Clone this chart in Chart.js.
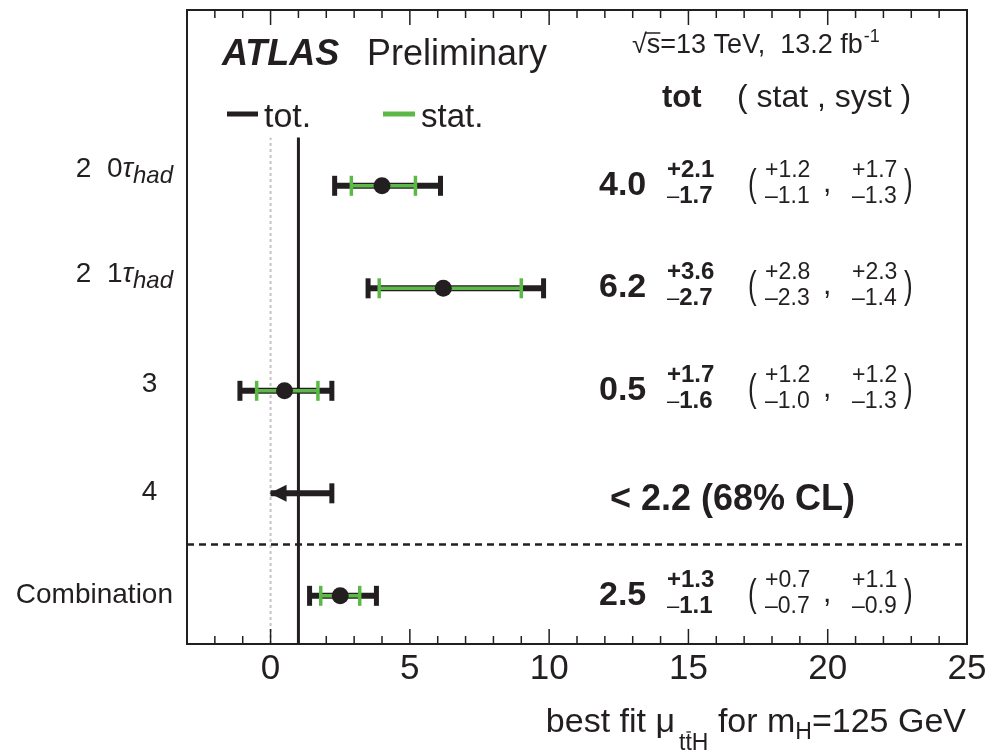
<!DOCTYPE html>
<html lang="en">
<head>
<meta charset="UTF-8">
<title>best fit mu ttH</title>
<script src="https://cdn.jsdelivr.net/npm/chart.js"></script>
<style>
  body { margin: 0; background: #fff; }
  #wrap { width: 992px; height: 755px; }
</style>
</head>
<body>
<div id="wrap"><canvas id="grafico" width="992" height="755"></canvas></div>
<script>
// channels, top to bottom (the l glyph is blank in the original figure)
const channels = ['2  0', '2  1', '3  ', '4  ', 'Combination'];
const channelTau = [true, true, false, false, false];

const mu     = [4.0, 6.2, 0.5, null, 2.5];
const totUp  = [2.1, 3.6, 1.7, null, 1.3];
const totDn  = [1.7, 2.7, 1.6, null, 1.1];
const statUp = [1.2, 2.8, 1.2, null, 0.7];
const statDn = [1.1, 2.3, 1.0, null, 0.7];
const systUp = [1.7, 2.3, 1.2, null, 1.1];
const systDn = [1.3, 1.4, 1.3, null, 0.9];
const upperLimit = [null, null, null, 2.2, null];

const xTicks = [0, 5, 10, 15, 20, 25];
const muSM = 1;

const BLACK = '#231f20';
const GREEN = '#5cb947';
const FONT = '"Liberation Sans", Arial, Helvetica, sans-serif';

const yMin = 0.53, yMax = 6.715;
const rowY = channels.map((c, i) => channels.length - i);
const lineTop = rowY[0] + 0.47;
const sepY = 1.5;

const datasets = [];
channels.forEach((c, i) => {
    const y = rowY[i];
    if (mu[i] === null) {
        datasets.push({
            data: [{x: 0, y: y}, {x: upperLimit[i], y: y}],
            showLine: true, borderColor: BLACK, borderWidth: 6,
            pointStyle: 'line', pointRotation: 90, pointRadius: [0, 10],
            pointBorderWidth: 5, pointBorderColor: BLACK, order: 3
        });
        return;
    }
    datasets.push({
        data: [{x: mu[i] - totDn[i], y: y}, {x: mu[i] + totUp[i], y: y}],
        showLine: true, borderColor: BLACK, borderWidth: 6,
        pointStyle: 'line', pointRotation: 90, pointRadius: 10,
        pointBorderWidth: 5, pointBorderColor: BLACK, order: 3
    });
    datasets.push({
        data: [{x: mu[i] - statDn[i], y: y}, {x: mu[i] + statUp[i], y: y}],
        showLine: true, borderColor: GREEN, borderWidth: 3.5,
        pointStyle: 'line', pointRotation: 90, pointRadius: 10,
        pointBorderWidth: 3.5, pointBorderColor: GREEN, order: 2
    });
    datasets.push({
        data: [{x: mu[i], y: y}],
        pointStyle: 'circle', pointRadius: 8.5, pointBorderWidth: 0,
        pointBackgroundColor: BLACK, pointBorderColor: BLACK, order: 1
    });
});

// SM line, zero line, separator
datasets.push({
    data: [{x: muSM, y: yMin}, {x: muSM, y: lineTop}],
    showLine: true, borderColor: BLACK, borderWidth: 3, pointRadius: 0, order: 5
});
datasets.push({
    data: [{x: 0, y: yMin}, {x: 0, y: lineTop}],
    showLine: true, borderColor: '#c4c4c4', borderWidth: 2, borderDash: [3, 3], pointRadius: 0, order: 6
});
datasets.push({
    data: [{x: -3, y: sepY}, {x: 25, y: sepY}],
    showLine: true, borderColor: BLACK, borderWidth: 2.5, borderDash: [7, 5], pointRadius: 0, order: 4
});

function txt(ctx, s, x, y, font, align) {
    ctx.font = font;
    ctx.textAlign = align || 'left';
    ctx.fillText(s, x, y);
    return ctx.measureText(s).width;
}

// thin tall parenthesis, like the ROOT ones
function paren(ctx, s, x, yMid) {
    ctx.save();
    ctx.font = `26px ${FONT}`;
    ctx.textAlign = 'left';
    ctx.translate(x, yMid);
    ctx.scale(1, 1.5);
    ctx.fillText(s, 0, 6.5);
    ctx.restore();
}

const decor = {
    id: 'decor',
    afterDatasetsDraw(chart) {
        const ctx = chart.ctx;
        const xs = chart.scales.x, ys = chart.scales.y;
        ctx.save();
        ctx.fillStyle = BLACK;
        // arrow heads for upper limits
        upperLimit.forEach((u, i) => {
            if (u === null) return;
            const tx = xs.getPixelForValue(0), ty = ys.getPixelForValue(rowY[i]);
            ctx.beginPath();
            ctx.moveTo(tx - 1, ty);
            ctx.lineTo(tx + 16, ty - 8.5);
            ctx.lineTo(tx + 16, ty + 8.5);
            ctx.closePath();
            ctx.fill();
        });
        ctx.restore();
    },
    afterDraw(chart) {
        const ctx = chart.ctx;
        const a = chart.chartArea;
        const xs = chart.scales.x, ys = chart.scales.y;
        ctx.save();
        ctx.strokeStyle = BLACK;
        ctx.fillStyle = BLACK;
        ctx.textBaseline = 'alphabetic';

        // frame
        ctx.lineWidth = 2;
        ctx.strokeRect(a.left, a.top, a.right - a.left, a.bottom - a.top);

        // inward ticks, top and bottom
        ctx.lineWidth = 1.5;
        for (let v = Math.ceil(xs.min); v <= xs.max; v++) {
            const px = xs.getPixelForValue(v);
            const len = v % 5 === 0 ? 15 : 8;
            ctx.beginPath();
            ctx.moveTo(px, a.bottom); ctx.lineTo(px, a.bottom - len);
            ctx.moveTo(px, a.top); ctx.lineTo(px, a.top + len);
            ctx.stroke();
        }

        // header
        txt(ctx, 'ATLAS', 222, 65, `italic bold 36px ${FONT}`);
        txt(ctx, 'Preliminary', 367, 65, `36px ${FONT}`);

        let x = 632;
        const w0 = txt(ctx, '\u221A', x, 53, `27px ${FONT}`);
        const ws = txt(ctx, 's', x + w0, 53, `27px ${FONT}`);
        ctx.lineWidth = 1.5;
        ctx.beginPath();
        ctx.moveTo(x + w0 - 1, 33); ctx.lineTo(x + w0 + ws, 33); ctx.stroke();
        x += w0 + ws;
        x += txt(ctx, '=13 TeV,  13.2 fb', x, 53, `27px ${FONT}`);
        txt(ctx, '-1', x + 1, 42, `18px ${FONT}`);

        // legend
        ctx.lineWidth = 5;
        ctx.strokeStyle = BLACK;
        ctx.beginPath(); ctx.moveTo(227, 114); ctx.lineTo(258, 114); ctx.stroke();
        txt(ctx, 'tot.', 264, 127, `34px ${FONT}`);
        ctx.strokeStyle = GREEN;
        ctx.beginPath(); ctx.moveTo(383, 114); ctx.lineTo(415, 114); ctx.stroke();
        txt(ctx, 'stat.', 421, 127, `33px ${FONT}`);

        txt(ctx, 'tot', 662, 107, `bold 31px ${FONT}`);
        txt(ctx, '( stat , syst )', 737, 107, `32px ${FONT}`);

        // left labels
        const labelNudge = [-9, -6, 1, 7, 7];
        channels.forEach((c, i) => {
            const by = ys.getPixelForValue(rowY[i]) + labelNudge[i];
            const right = 173;
            if (channelTau[i]) {
                ctx.font = `italic 24px ${FONT}`;
                const wh = ctx.measureText('had').width;
                ctx.font = `italic 28px ${FONT}`;
                const wt = ctx.measureText('\u03C4').width;
                ctx.font = `28px ${FONT}`;
                const wm = ctx.measureText(c).width;
                let sx = right - wh - wt - wm;
                sx += txt(ctx, c, sx, by, `28px ${FONT}`);
                sx += txt(ctx, '\u03C4', sx, by, `italic 28px ${FONT}`);
                txt(ctx, 'had', sx, by + 6, `italic 24px ${FONT}`);
            } else {
                txt(ctx, c, right, by, `28px ${FONT}`, 'right');
            }
        });

        // right-hand numbers
        channels.forEach((c, i) => {
            const yp = ys.getPixelForValue(rowY[i]);
            if (mu[i] === null) {
                txt(ctx, '< ' + upperLimit[i].toFixed(1) + ' (68% CL)', 610, yp + 17, `bold 36px ${FONT}`);
                return;
            }
            txt(ctx, mu[i].toFixed(1), 599, yp + 9, `bold 34px ${FONT}`);
            txt(ctx, '+' + totUp[i].toFixed(1), 667, yp - 9, `bold 24px ${FONT}`);
            const wd = txt(ctx, '\u2013', 667, yp + 17, `22px ${FONT}`);
            txt(ctx, totDn[i].toFixed(1), 667 + wd, yp + 17, `bold 24px ${FONT}`);

            paren(ctx, '(', 748, yp);
            txt(ctx, '+' + statUp[i].toFixed(1), 765, yp - 9, `23px ${FONT}`);
            txt(ctx, '\u2013' + statDn[i].toFixed(1), 765, yp + 17, `23px ${FONT}`);
            txt(ctx, ',', 823, yp + 6, `30px ${FONT}`);
            txt(ctx, '+' + systUp[i].toFixed(1), 852, yp - 9, `23px ${FONT}`);
            txt(ctx, '\u2013' + systDn[i].toFixed(1), 852, yp + 17, `23px ${FONT}`);
            paren(ctx, ')', 904, yp);
        });

        // x title, right aligned
        const big = `34px ${FONT}`, sub = `23px ${FONT}`;
        const parts = [
            ['best fit \u03BC', big, 0], ['tt', sub, 18], ['H', sub, 18], [' for m', big, 0],
            ['H', sub, 7], ['=125 GeV', big, 0]
        ];
        let total = 0;
        parts.forEach(p => { ctx.font = p[1]; total += ctx.measureText(p[0]).width; });
        total += 4;
        x = 966 - total;
        const base = 732;
        parts.forEach((p, k) => {
            const w = txt(ctx, p[0], x, base + p[2], p[1]);
            if (k === 1) {
                ctx.font = sub;
                const wt = ctx.measureText('t').width;
                ctx.lineWidth = 1.3;
                ctx.strokeStyle = BLACK;
                ctx.beginPath();
                ctx.moveTo(x + wt + 1, base + p[2] - 18); ctx.lineTo(x + 2 * wt - 1, base + p[2] - 18);
                ctx.stroke();
            }
            x += w + (k === 0 ? 4 : 0);
        });
        ctx.restore();
    }
};

new Chart(document.getElementById('grafico'), {
    type: 'scatter',
    data: { datasets: datasets },
    options: {
        responsive: false,
        animation: false,
        events: [],
        layout: { autoPadding: false, padding: { left: 187, right: 25, top: 10, bottom: 61 } },
        plugins: { legend: { display: false }, tooltip: { enabled: false } },
        scales: {
            x: {
                type: 'linear', min: -3, max: 25,
                afterBuildTicks: s => { s.ticks = xTicks.map(v => ({ value: v })); },
                afterFit: s => { s.height = 50; },
                grid: { display: false, drawTicks: false },
                border: { display: false },
                ticks: {
                    font: { size: 35, family: FONT }, color: BLACK, padding: 4,
                    maxRotation: 0, autoSkip: false
                }
            },
            y: { type: 'linear', min: yMin, max: yMax, display: false }
        }
    },
    plugins: [decor]
});
</script>
</body>
</html>
